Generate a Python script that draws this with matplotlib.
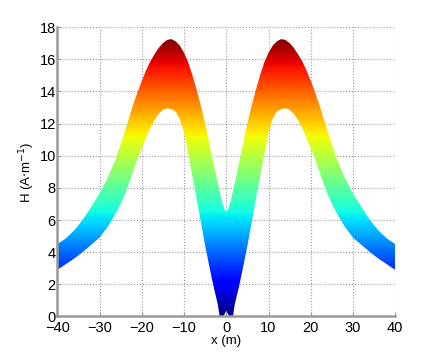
import numpy as np
import matplotlib
matplotlib.use('Agg')
import matplotlib.pyplot as plt

plt.rcParams['font.family'] = ['Liberation Sans', 'DejaVu Sans']

# right half of the band (curve is symmetric about x = 0)
x_half = [0, 0.4, 0.8, 1.2, 1.6, 2, 3, 4, 5, 6, 7, 8, 9, 10, 11, 12, 13, 14, 15, 16,
          17, 18, 19, 20, 21, 22, 23, 24, 25, 26, 28, 30, 32, 34, 36, 38, 40]
h_top = [6.5, 6.65, 6.95, 7.35, 7.8, 8.3, 9.5, 10.75, 12.0, 13.1, 14.1, 15.0, 15.8, 16.4,
         16.85, 17.12, 17.25, 17.2, 17.0, 16.7, 16.3, 15.85, 15.3, 14.65, 13.95, 13.2, 12.35,
         11.5, 10.7, 9.9, 8.65, 7.65, 6.8, 6.0, 5.35, 4.85, 4.5]
h_bottom = [0.35, 0.15, -0.05, -0.1, 0.05, 0.75, 1.85, 3.1, 4.4, 5.85, 7.3, 8.7, 10.1,
            11.45, 12.3, 12.75, 12.9, 12.95, 12.85, 12.6, 12.2, 11.7, 11.1, 10.45, 9.8,
            9.05, 8.3, 7.6, 7.0, 6.5, 5.6, 4.9, 4.45, 4.0, 3.6, 3.25, 2.9]

x_half = np.array(x_half)
x = np.concatenate([-x_half[:0:-1], x_half])
top = np.concatenate([h_top[:0:-1], h_top])
bottom = np.concatenate([h_bottom[:0:-1], h_bottom])

fig = plt.figure(figsize=(4.37, 3.56), dpi=100)
ax = fig.add_axes([0.131, 0.111, 0.7736, 0.813])

# band coloured by H value (jet)
band = ax.fill_between(x, bottom, top, facecolor='none', edgecolor='none')
grad = np.linspace(0, 18, 400).reshape(-1, 1)
im = ax.imshow(grad, extent=[-40, 40, 0, 18], origin='lower', aspect='auto',
               cmap='jet', vmin=0, vmax=17.3, zorder=2)
im.set_clip_path(band.get_paths()[0], transform=ax.transData)

ax.set_xlim(-40, 40)
ax.set_ylim(0, 18)
ax.set_xticks(np.arange(-40, 41, 10))
ax.set_yticks(np.arange(0, 19, 2))
ax.grid(True, linestyle=':', color='#999999', linewidth=0.8)
ax.set_axisbelow(True)
for s in ['top', 'right']:
    ax.spines[s].set_visible(False)
for s in ['left', 'bottom']:
    ax.spines[s].set_color('#999999')
    ax.spines[s].set_linewidth(1.8)
ax.tick_params(direction='in', length=3, color='#999999', labelsize=10.5,
               labelcolor='black')
ax.tick_params(axis='y', pad=1)
ax.tick_params(axis='x', pad=3)

ax.set_xlabel('x (m)', fontsize=9.5, labelpad=0)
ax.set_ylabel('H (A$\\cdot$m$^{-1}$)', fontsize=9.5)
ax.yaxis.set_label_coords(-0.06, 0.5)

plt.savefig('out.png', dpi=100)
